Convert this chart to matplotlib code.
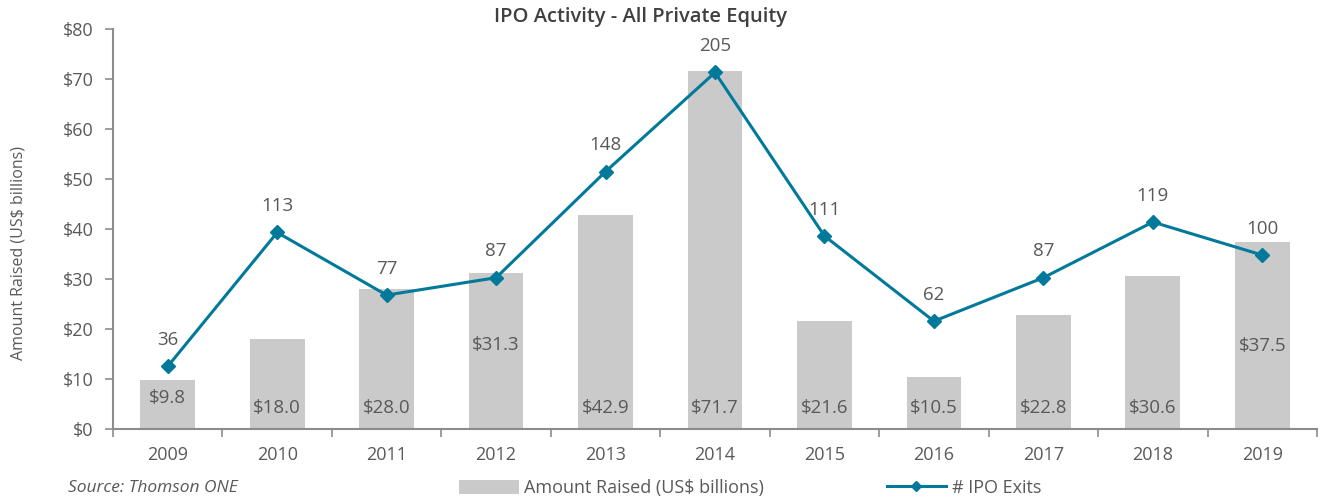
import matplotlib
matplotlib.use("Agg")
import matplotlib.pyplot as plt
from matplotlib.patches import Patch
from matplotlib.lines import Line2D

plt.rcParams['font.family'] = ['Open Sans', 'DejaVu Sans']

years = ['2009', '2010', '2011', '2012', '2013', '2014', '2015', '2016', '2017', '2018', '2019']
amount = [9.8, 18.0, 28.0, 31.3, 42.9, 71.7, 21.6, 10.5, 22.8, 30.6, 37.5]
exits = [36, 113, 77, 87, 148, 205, 111, 62, 87, 119, 100]
# where the $ label sits inside each bar (data units)
label_y = [6.2, 4.2, 4.2, 16.8, 4.2, 4.2, 4.2, 4.2, 4.2, 4.2, 16.6]

bar_color = '#C9CAC9'
line_color = '#00799A'
text_color = '#595959'
axis_color = '#8C8C8C'

fig = plt.figure(figsize=(13.21, 4.98), dpi=100)
ax = fig.add_axes([113 / 1321, 1 - 429 / 498, (1317 - 113) / 1321, 400 / 498])

x = list(range(len(years)))
ax.bar(x, amount, width=0.5, color=bar_color, zorder=1)
ax.set_xlim(-0.5, len(years) - 0.5)
ax.set_ylim(0, 80)
ax.set_yticks(range(0, 81, 10))
ax.set_yticklabels([f'${v}' for v in range(0, 81, 10)])
ax.set_xticks(x)
ax.set_xticklabels(years)
ax.set_xticks([i - 0.5 for i in range(len(years) + 1)], minor=True)
ax.tick_params(axis='x', which='major', length=0, pad=12, labelsize=13, colors=text_color)
ax.tick_params(axis='x', which='minor', length=6, color=axis_color, width=1.2)
ax.tick_params(axis='y', length=6, color=axis_color, width=1.2, labelsize=13,
               labelcolor=text_color, pad=8)
for s in ['top', 'right']:
    ax.spines[s].set_visible(False)
for s in ['left', 'bottom']:
    ax.spines[s].set_color(axis_color)
    ax.spines[s].set_linewidth(1.5)
ax.set_ylabel('Amount Raised (US$ billions)', fontsize=11.5, color=text_color)
ax.yaxis.set_label_coords(-0.072, 0.44)

for xi, v, ly in zip(x, amount, label_y):
    ax.text(xi, ly, f'${v:.1f}', ha='center', va='center', fontsize=13.5, color=text_color, zorder=3)

ax2 = ax.twinx()
ax2.set_ylim(0, 230)
ax2.plot(x, exits, color=line_color, lw=2.2, marker='D', markersize=7, zorder=4)
ax2.axis('off')
for xi, v in zip(x, exits):
    ax2.annotate(str(v), (xi, v), xytext=(0, 19), textcoords='offset points',
                 ha='center', va='center', fontsize=13.5, color=text_color)

fig.text(641 / 1321, 1 - 17 / 498, 'IPO Activity - All Private Equity', ha='center', va='center',
         fontsize=14.5, color='#404040', fontweight='semibold')
fig.text(68 / 1321, 1 - 488 / 498, 'Source: Thomson ONE', ha='left', va='center',
         fontsize=12.5, style='italic', color=text_color)

handles = [Patch(facecolor=bar_color, edgecolor='none'),
           Line2D([], [], color=line_color, lw=2.2, marker='D', markersize=5)]
fig.legend(handles, ['Amount Raised (US$ billions)', '# IPO Exits'], loc='center',
           bbox_to_anchor=(750 / 1321, 1 - 488 / 498), ncol=2, frameon=False,
           fontsize=13, labelcolor=text_color, columnspacing=6.8, handlelength=3.3,
           handletextpad=0.3, handleheight=0.8)

fig.savefig('out.png', dpi=100)
